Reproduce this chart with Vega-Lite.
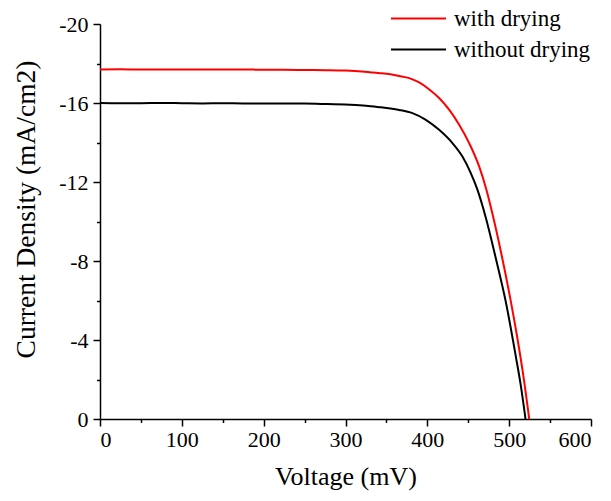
{
  "$schema": "https://vega.github.io/schema/vega-lite/v6.json",
  "width": 491,
  "height": 395,
  "autosize": {"type": "none"},
  "padding": {"left": 100, "top": 24, "right": 20, "bottom": 82},
  "background": "white",
  "config": {
    "view": {"stroke": null},
    "font": "Liberation Serif",
    "axis": {
      "grid": false,
      "domainColor": "black",
      "domainWidth": 1.5,
      "tickColor": "black",
      "tickWidth": 1.5,
      "labelColor": "black",
      "titleColor": "black",
      "labelFont": "Liberation Serif",
      "titleFont": "Liberation Serif",
      "labelFontSize": 22,
      "titleFontSize": 26,
      "titleFontWeight": "normal"
    }
  },
  "data": {
    "values": [
      {"series": "with drying", "voltage": 0, "current": -17.70},
      {"series": "with drying", "voltage": 25, "current": -17.71},
      {"series": "with drying", "voltage": 50, "current": -17.69},
      {"series": "with drying", "voltage": 75, "current": -17.70},
      {"series": "with drying", "voltage": 100, "current": -17.70},
      {"series": "with drying", "voltage": 125, "current": -17.69},
      {"series": "with drying", "voltage": 150, "current": -17.69},
      {"series": "with drying", "voltage": 175, "current": -17.70},
      {"series": "with drying", "voltage": 200, "current": -17.68},
      {"series": "with drying", "voltage": 225, "current": -17.68},
      {"series": "with drying", "voltage": 250, "current": -17.67},
      {"series": "with drying", "voltage": 275, "current": -17.66},
      {"series": "with drying", "voltage": 300, "current": -17.64},
      {"series": "with drying", "voltage": 320, "current": -17.60},
      {"series": "with drying", "voltage": 340, "current": -17.52},
      {"series": "with drying", "voltage": 355, "current": -17.45},
      {"series": "with drying", "voltage": 365.6, "current": -17.37},
      {"series": "with drying", "voltage": 377.8, "current": -17.26},
      {"series": "with drying", "voltage": 390, "current": -17.04},
      {"series": "with drying", "voltage": 402, "current": -16.70},
      {"series": "with drying", "voltage": 414.4, "current": -16.25},
      {"series": "with drying", "voltage": 426.6, "current": -15.66},
      {"series": "with drying", "voltage": 438.9, "current": -14.90},
      {"series": "with drying", "voltage": 451.1, "current": -13.97},
      {"series": "with drying", "voltage": 463.3, "current": -12.79},
      {"series": "with drying", "voltage": 472.2, "current": -11.61},
      {"series": "with drying", "voltage": 479.5, "current": -10.40},
      {"series": "with drying", "voltage": 489.7, "current": -8.51},
      {"series": "with drying", "voltage": 500, "current": -6.40},
      {"series": "with drying", "voltage": 510, "current": -4.10},
      {"series": "with drying", "voltage": 517, "current": -2.28},
      {"series": "with drying", "voltage": 524.5, "current": 0},
      {"series": "without drying", "voltage": 0, "current": -16.00},
      {"series": "without drying", "voltage": 25, "current": -15.99},
      {"series": "without drying", "voltage": 50, "current": -15.99},
      {"series": "without drying", "voltage": 75, "current": -16.00},
      {"series": "without drying", "voltage": 100, "current": -15.99},
      {"series": "without drying", "voltage": 125, "current": -15.98},
      {"series": "without drying", "voltage": 150, "current": -15.99},
      {"series": "without drying", "voltage": 175, "current": -15.98},
      {"series": "without drying", "voltage": 200, "current": -15.98},
      {"series": "without drying", "voltage": 225, "current": -15.97},
      {"series": "without drying", "voltage": 250, "current": -15.97},
      {"series": "without drying", "voltage": 275, "current": -15.95},
      {"series": "without drying", "voltage": 305, "current": -15.91},
      {"series": "without drying", "voltage": 325, "current": -15.86},
      {"series": "without drying", "voltage": 341, "current": -15.79},
      {"series": "without drying", "voltage": 355, "current": -15.72},
      {"series": "without drying", "voltage": 365.6, "current": -15.65},
      {"series": "without drying", "voltage": 381.8, "current": -15.49},
      {"series": "without drying", "voltage": 398.2, "current": -15.15},
      {"series": "without drying", "voltage": 414.4, "current": -14.64},
      {"series": "without drying", "voltage": 430.7, "current": -13.97},
      {"series": "without drying", "voltage": 442.9, "current": -13.29},
      {"series": "without drying", "voltage": 453.1, "current": -12.45},
      {"series": "without drying", "voltage": 461.2, "current": -11.61},
      {"series": "without drying", "voltage": 471.4, "current": -10.20},
      {"series": "without drying", "voltage": 483.6, "current": -8.15},
      {"series": "without drying", "voltage": 495.8, "current": -5.95},
      {"series": "without drying", "voltage": 508, "current": -3.20},
      {"series": "without drying", "voltage": 514, "current": -1.75},
      {"series": "without drying", "voltage": 520, "current": 0}
    ]
  },
  "layer": [
    {
      "mark": {"type": "line", "strokeWidth": 2, "interpolate": "monotone"},
      "encoding": {
        "x": {
          "field": "voltage", "type": "quantitative",
          "scale": {"domain": [0, 600], "nice": false},
          "axis": {"orient": "bottom", "values": [0, 100, 200, 300, 400, 500, 600], "tickSize": 7, "labelPadding": 3, "title": "Voltage (mV)", "titlePadding": 13}
        },
        "y": {
          "field": "current", "type": "quantitative",
          "scale": {"domain": [-20, 0], "reverse": true, "nice": false},
          "axis": {
            "orient": "left", "values": [-20, -16, -12, -8, -4, 0], "labelExpr": "replace(datum.label, '\u2212', '-')",
            "tickSize": 7, "labelPadding": 5,
            "title": "Current Density (mA/cm2)", "titleFontSize": 27.5, "titleY": 185, "titlePadding": 18
          }
        },
        "color": {
          "field": "series", "type": "nominal",
          "scale": {"domain": ["with drying", "without drying"], "range": ["#ff0000", "#000000"]},
          "legend": {
            "orient": "none", "legendX": 290, "legendY": -20, "title": null,
            "symbolType": "stroke", "symbolSize": 3025, "symbolStrokeWidth": 2,
            "labelFont": "Liberation Serif", "labelFontSize": 23, "labelColor": "black",
            "labelOffset": 7, "clipHeight": 29, "rowPadding": 2
          }
        }
      }
    },
    {
      "mark": {"type": "line", "opacity": 0},
      "encoding": {
        "x": {
          "field": "voltage", "type": "quantitative",
          "axis": {"orient": "bottom", "values": [50, 150, 250, 350, 450, 550], "tickSize": 3.5, "labels": false, "domain": false, "title": null}
        },
        "y": {
          "field": "current", "type": "quantitative",
          "axis": {"orient": "left", "values": [-18, -14, -10, -6, -2], "tickSize": 3.5, "labels": false, "domain": false, "title": null}
        },
        "detail": {"field": "series"}
      }
    }
  ],
  "resolve": {"axis": {"x": "independent", "y": "independent"}}
}
